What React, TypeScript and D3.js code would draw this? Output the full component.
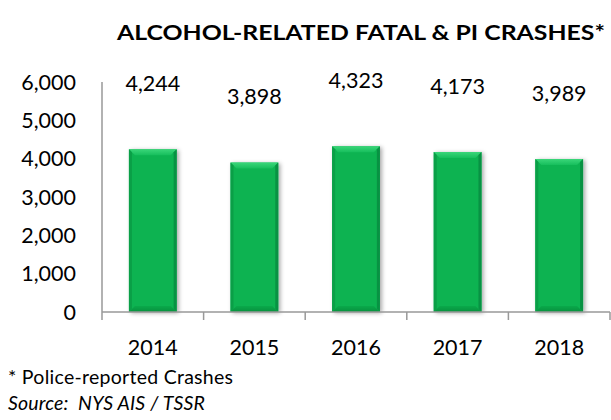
import React from "react";
import * as d3 from "d3";

const years = ["2014", "2015", "2016", "2017", "2018"];
const crashes = [4244, 3898, 4323, 4173, 3989];
const yTicks = [0, 1000, 2000, 3000, 4000, 5000, 6000];

const W = 611;
const H = 420;
const font = "Lato, 'Open Sans', sans-serif";

const App = () => {
  const margin = { top: 82, right: 1, bottom: 108, left: 102 };
  const x = d3
    .scaleBand()
    .domain(years)
    .range([margin.left, W - margin.right])
    .paddingInner(0.53)
    .paddingOuter(0.265);
  const y = d3
    .scaleLinear()
    .domain([0, 6000])
    .range([H - margin.bottom, margin.top]);
  const base = y(0);
  const fmt = d3.format(",");
  const step = x.step();
  const bev = 6;

  return (
    <svg
      width={W}
      height={H}
      style={{ position: "absolute", left: 0, top: 0, background: "#fff" }}
      fontFamily={font}
    >
      <defs>
        <filter id="barShadow" x="-30%" y="-10%" width="160%" height="130%">
          <feDropShadow dx="2" dy="1" stdDeviation="2" floodColor="#000" floodOpacity="0.35" />
        </filter>
        <linearGradient id="topBevel" x1="0" y1="0" x2="0" y2="1">
          <stop offset="0%" stopColor="#3ad679" />
          <stop offset="100%" stopColor="#16be5c" />
        </linearGradient>
        <linearGradient id="bottomBevel" x1="0" y1="0" x2="0" y2="1">
          <stop offset="0%" stopColor="#0aa94a" />
          <stop offset="100%" stopColor="#07913e" />
        </linearGradient>
      </defs>

      <text
        x={361}
        y={40}
        textAnchor="middle"
        fontWeight="bold"
        fontSize={21}
        textLength={488}
        lengthAdjust="spacingAndGlyphs"
        fill="#000"
      >
        ALCOHOL-RELATED FATAL &amp; PI CRASHES*
      </text>

      {/* y axis */}
      <line x1={margin.left} x2={margin.left} y1={y(6000)} y2={base} stroke="#999" strokeWidth={1.5} />
      {yTicks.map((t) => (
        <text key={t} x={76} y={y(t)} dy="0.35em" textAnchor="end" fontSize={21.5} fill="#000">
          {fmt(t)}
        </text>
      ))}

      {/* bars */}
      {years.map((yr, i) => {
        const x0 = x(yr) as number;
        const bw = x.bandwidth();
        const top = y(crashes[i]);
        const x1 = x0 + bw;
        return (
          <g key={yr}>
            <rect x={x0} y={top} width={bw} height={base - top} fill="#0cb351" filter="url(#barShadow)" />
            <polygon
              points={`${x0},${top} ${x1},${top} ${x1 - bev},${top + bev} ${x0 + bev},${top + bev}`}
              fill="url(#topBevel)"
            />
            <polygon
              points={`${x0},${top} ${x0 + bev / 2},${top + bev / 2} ${x0 + bev / 2},${base - bev / 2} ${x0},${base}`}
              fill="#0a9f47"
            />
            <polygon
              points={`${x1},${top} ${x1 - bev / 2},${top + bev / 2} ${x1 - bev / 2},${base - bev / 2} ${x1},${base}`}
              fill="#089243"
            />
            <polygon
              points={`${x0},${base} ${x0 + bev},${base - bev} ${x1 - bev},${base - bev} ${x1},${base}`}
              fill="url(#bottomBevel)"
            />
            <text
              x={x0 + bw / 2}
              y={top - 66}
              dy="0.35em"
              textAnchor="middle"
              fontSize={21.5}
              fill="#000"
            >
              {fmt(crashes[i])}
            </text>
          </g>
        );
      })}

      {/* x axis */}
      <line x1={margin.left} x2={W - margin.right} y1={base} y2={base} stroke="#999" strokeWidth={1.5} />
      {d3.range(years.length + 1).map((k) => (
        <line
          key={k}
          x1={margin.left + k * step}
          x2={margin.left + k * step}
          y1={base}
          y2={base + 8}
          stroke="#999"
          strokeWidth={1.5}
        />
      ))}
      {years.map((yr) => (
        <text
          key={yr}
          x={(x(yr) as number) + x.bandwidth() / 2}
          y={347}
          dy="0.35em"
          textAnchor="middle"
          fontSize={21.5}
          fill="#000"
        >
          {yr}
        </text>
      ))}

      <text x={8} y={377} dy="0.35em" fontSize={19.5} textLength={225} fill="#000">
        * Police-reported Crashes
      </text>
      <text x={8} y={403} dy="0.35em" fontSize={19.5} fontStyle="italic" textLength={197} fill="#000">
        Source:&#160; NYS AIS / TSSR
      </text>
    </svg>
  );
};

export default App;
